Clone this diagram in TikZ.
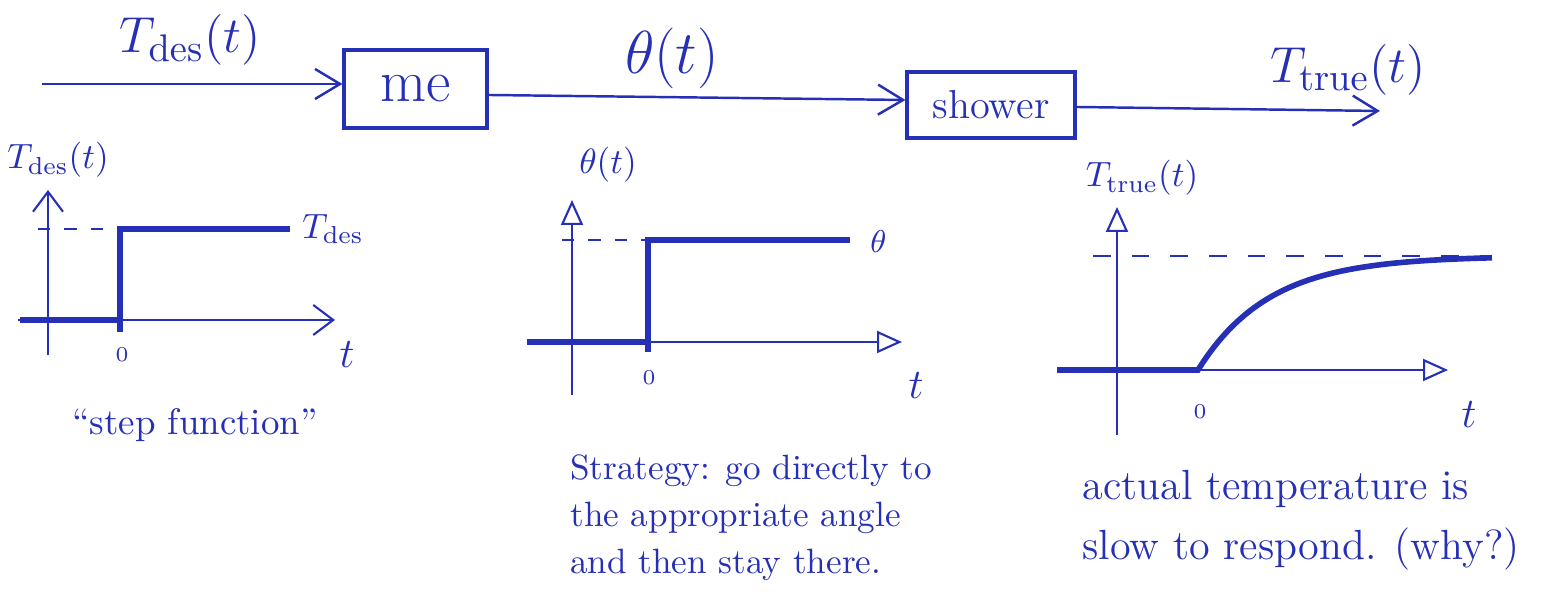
\documentclass[tikz,border=0pt]{standalone}
\usepackage{amsmath,amssymb}
\usepackage{tikz}
\usetikzlibrary{arrows.meta,positioning,calc}
\usepackage{xcolor}
\definecolor{ink}{RGB}{38,48,182}

\begin{document}
\begin{tikzpicture}[color=ink,
    box/.style={draw, line width=0.9pt, minimum width=1.43cm, minimum height=0.78cm, align=center},
    arr/.style={-{Straight Barb[length=2.5mm, width=3mm]}, line width=0.7pt},
    barb/.style={-{Straight Barb[length=2mm, width=3mm]}, line width=0.6pt},
    tri/.style={-{Triangle[open, length=2.5mm, width=2.2mm]}, line width=0.6pt},
    sig/.style={line width=1.6pt},
    lvl/.style={dashed, dash pattern=on 4pt off 5pt, line width=0.5pt},
    big/.style={font=\fontsize{15}{17}\selectfont},
    small/.style={font=\fontsize{10}{12}\selectfont},
    tick/.style={font=\fontsize{6.5}{7}\selectfont},
    tvar/.style={font=\fontsize{13}{15}\selectfont}]
  \useasboundingbox (0,0) rectangle (15.56,6.16);

  % Block diagram
  \coordinate (in) at (0.42,5.32);
  \node[box, font=\fontsize{17}{19}\selectfont] (me) at (4.155,5.27) {me};
  \node[box, minimum width=1.68cm, minimum height=0.66cm, font=\fontsize{11.5}{13}\selectfont] (shower) at (9.91,5.11) {shower};
  \coordinate (out) at (13.80,5.05);
  \draw[arr] (in) -- ([yshift=0.05cm]me.west);
  \draw[arr] ([yshift=-0.06cm]me.east) -- ([yshift=0.05cm]shower.west);
  \draw[arr] ([yshift=-0.02cm]shower.east) -- (out);
  \node[big] (lin) at (1.90,5.76) {$T_{\mathrm{des}}(t)$};
  \node[big, font=\fontsize{16}{18}\selectfont] (lmid) at (6.72,5.58) {$\theta(t)$};
  \node[big] (lout) at (13.48,5.46) {$T_{\mathrm{true}}(t)$};

  % Step input
  \coordinate (a1b) at (0.48,2.61);
  \coordinate (a1t) at (0.48,4.26);
  \coordinate (a1l) at (0.18,2.96);
  \coordinate (a1r) at (3.35,2.96);
  \draw[barb] (a1b) -- (a1t);
  \draw[barb] (a1l) -- (a1r);
  \draw[lvl, dash pattern=on 3.5pt off 4pt] (0.38,3.87) -- (1.20,3.87);
  \draw[sig] (0.20,2.96) -- (1.20,2.96);
  \draw[sig] (1.20,2.84) -- (1.20,3.87) -- (2.90,3.87);
  \node[small, anchor=west] (tdes) at (2.90,3.87) {$T_{\mathrm{des}}$};
  \node[small] (y1) at (0.58,4.56) {$T_{\mathrm{des}}(t)$};
  \node[tick] (z1) at (1.22,2.61) {$0$};
  \node[tvar] (t1) at (3.47,2.61) {$t$};
  \node[font=\fontsize{10.5}{12}\selectfont] (stepf) at (1.95,1.91) {``step function''};

  % Angle
  \coordinate (a2b) at (5.72,2.21);
  \coordinate (a2t) at (5.72,4.16);
  \coordinate (a2l) at (5.27,2.74);
  \coordinate (a2r) at (9.02,2.74);
  \draw[tri] (a2b) -- (a2t);
  \draw[tri] (a2l) -- (a2r);
  \draw[lvl, dash pattern=on 3.5pt off 4pt] (5.62,3.76) -- (6.48,3.76);
  \draw[sig] (5.27,2.74) -- (6.48,2.74);
  \draw[sig] (6.48,2.64) -- (6.48,3.76) -- (8.50,3.76);
  \node[font=\fontsize{9}{10}\selectfont, anchor=west] (th) at (8.58,3.74) {$\theta$};
  \node[small] (y2) at (6.08,4.51) {$\theta(t)$};
  \node[tick] (z2) at (6.49,2.38) {$0$};
  \node[tvar] (t2) at (9.16,2.30) {$t$};
  \node[anchor=west, align=left, font=\fontsize{10}{13.4}\selectfont] (strat) at (5.58,0.98)
    {Strategy: go directly to\\the appropriate angle\\and then stay there.};

  % Shower response
  \coordinate (a3b) at (11.17,1.81);
  \coordinate (a3t) at (11.17,4.09);
  \coordinate (a3l) at (10.57,2.46);
  \coordinate (a3r) at (14.48,2.46);
  \draw[tri] (a3b) -- (a3t);
  \draw[tri] (a3l) -- (a3r);
  \draw[lvl, dash pattern=on 5pt off 6pt] (10.93,3.60) -- (14.92,3.60);
  \draw[sig] (10.57,2.46) -- (11.98,2.46)
    -- plot[domain=0:2.94, samples=60, smooth] ({11.98+\x},{2.46+1.14*(1-exp(-\x/0.71))});
  \node[small] (y3) at (11.42,4.38) {$T_{\mathrm{true}}(t)$};
  \node[tick] (z3) at (12.00,2.04) {$0$};
  \node[tvar] (t3) at (14.69,2.01) {$t$};
  \node[anchor=west, align=left, font=\fontsize{12}{17}\selectfont] (slow) at (10.70,0.96)
    {actual temperature is\\slow to respond. (why?)};
\end{tikzpicture}
\end{document}
